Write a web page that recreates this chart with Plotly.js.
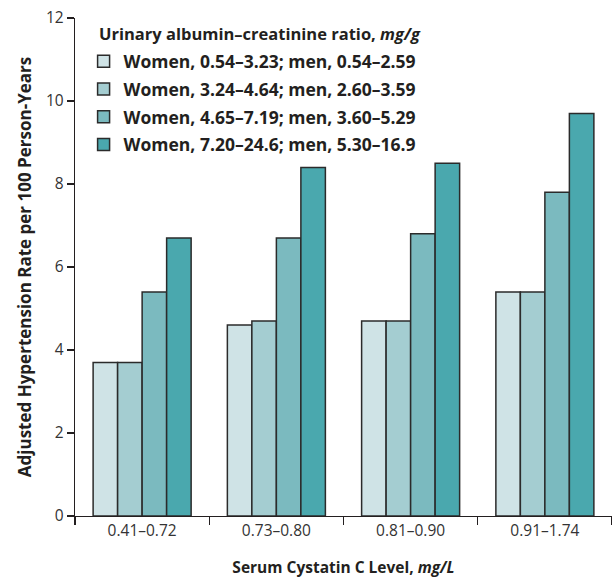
<!DOCTYPE html>
<html>
<head>
<meta charset="utf-8">
<script src="https://cdn.plot.ly/plotly-3.0.1.min.js"></script>
<style>html,body{margin:0;padding:0;background:#fff;}#chart{width:612px;height:578px;}</style>
</head>
<body>
<div id="chart"></div>
<script>
const categories = ["0.41–0.72", "0.73–0.80", "0.81–0.90", "0.91–1.74"];
const seriesNames = [
  "Women, 0.54–3.23; men, 0.54–2.59",
  "Women, 3.24–4.64; men, 2.60–3.59",
  "Women, 4.65–7.19; men, 3.60–5.29",
  "Women, 7.20–24.6; men, 5.30–16.9"
];
const legendTitle = "Urinary albumin–creatinine ratio, <i>mg/g</i>";
const q1 = [3.7, 4.6, 4.7, 5.4];
const q2 = [3.7, 4.7, 4.7, 5.4];
const q3 = [5.4, 6.7, 6.8, 7.8];
const q4 = [6.7, 8.4, 8.5, 9.7];
const colors = ["#cfe3e6", "#a4cdd1", "#7bbabf", "#4aa8ae"];
const yTicks = [0, 2, 4, 6, 8, 10, 12];

const allValues = [q1, q2, q3, q4];
const data = allValues.map((vals, i) => ({
  type: "bar",
  name: seriesNames[i],
  legendgroup: "g" + i,
  x: categories,
  y: vals,
  marker: {color: colors[i], line: {color: "#2b2b2b", width: 1.5}},
  hoverinfo: "y"
}));

const layout = {
  width: 612, height: 578,
  margin: {l: 75, r: 0, t: 18, b: 62},
  paper_bgcolor: "#fff", plot_bgcolor: "#fff",
  font: {family: "Open Sans, sans-serif", color: "#231f20"},
  barmode: "group",
  bargap: 0.27,
  bargroupgap: 0,
  xaxis: {
    type: "category",
    range: [-0.5, 3.5],
    tickson: "boundaries",
    ticks: "outside", ticklen: 8, tickwidth: 1.2, tickcolor: "#231f20",
    showline: true, linecolor: "#231f20", linewidth: 1.2,
    showgrid: false, zeroline: false,
    tickfont: {size: 15.5, color: "#333"},
    title: {text: "<b>Serum Cystatin C Level, <i>mg/L</i></b>", font: {size: 15.5, color: "#231f20"}, standoff: 29}
  },
  yaxis: {
    range: [0, 12],
    tickvals: yTicks,
    ticks: "outside", ticklen: 7, tickwidth: 1.2, tickcolor: "#231f20",
    showline: true, linecolor: "#231f20", linewidth: 1.2,
    showgrid: false, zeroline: false,
    tickfont: {size: 15.5, color: "#333"},
    title: {text: "<b>Adjusted Hypertension Rate per 100 Person-Years</b>", font: {size: 17, color: "#231f20"}, standoff: 10}
  },
  legend: {
    x: 0.016, y: 0.949, xanchor: "left", yanchor: "top",
    bgcolor: "rgba(0,0,0,0)",
    font: {size: 17.5, color: "#231f20", family: "Open Sans, sans-serif", weight: "bold"},
    itemwidth: 30,
    traceorder: "grouped",
    tracegroupgap: 2
  },
  annotations: [{
    xref: "paper", yref: "paper",
    x: (97 - 75) / 537, y: (516 - 33) / 498,
    xanchor: "left", yanchor: "middle",
    text: "<b>" + legendTitle + "</b>",
    showarrow: false,
    font: {size: 16.5, color: "#231f20", family: "Open Sans, sans-serif"}
  }],
  showlegend: true
};

Plotly.newPlot("chart", data, layout, {displayModeBar: false, staticPlot: true});
</script>
</body>
</html>
